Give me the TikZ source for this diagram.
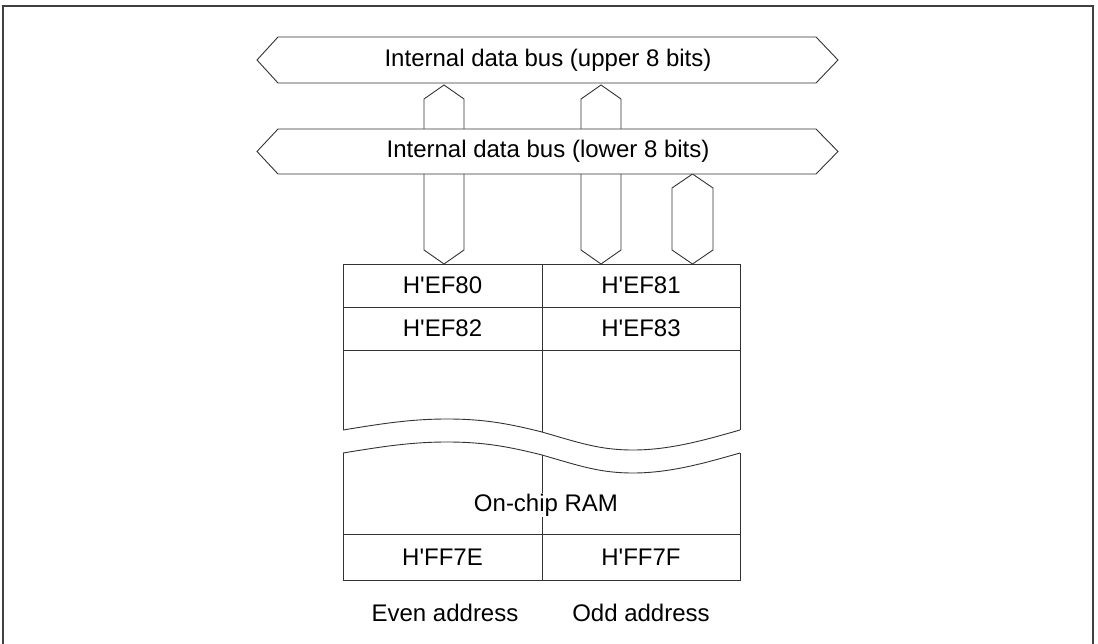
\documentclass[tikz,border=0pt]{standalone}
\usepackage{fontspec}
\setmainfont{Liberation Sans}[Ligatures=TeXOff]
\begin{document}
\begin{tikzpicture}[x=1pt,y=-1pt,
  line/.style={draw=black!80, line width=0.9pt, line join=miter},
  busshape/.style={line, fill=white},
  frame/.style={draw=black!75, line width=2pt},
  lbl/.style={font=\fontsize{24}{27}\selectfont, inner sep=0pt, text=black},
  cell/.style={lbl}]
\useasboundingbox (0,0) rectangle (1098,644);
% outer frame
\draw[frame] (3,644) -- (3,6) -- (1093,6) -- (1093,644);

% vertical bus connectors (drawn first, buses cover them)
\coordinate (c1top) at (444,85);
\coordinate (c1bot) at (444,264);
\coordinate (c2top) at (601,85);
\coordinate (c2bot) at (601,264);
\coordinate (c3top) at (692.5,174);
\coordinate (c3bot) at (692.5,264);
\draw[line] (c1top) -- ++(20,14) -- (464,250) -- (c1bot) -- (424,250) -- (424,99) -- cycle;
\draw[line] (c2top) -- ++(20,14) -- (621,250) -- (c2bot) -- (581,250) -- (581,99) -- cycle;
\draw[line] (c3top) -- (713,188) -- (713,250) -- (c3bot) -- (672,250) -- (672,188) -- cycle;

% buses
\draw[busshape] (257,60) -- (278,37) -- (816,37) -- (838,60) -- (816,83) -- (278,83) -- cycle;
\draw[busshape] (257,151.5) -- (278,129) -- (816,129) -- (838,151.5) -- (816,174) -- (278,174) -- cycle;
\node[lbl] (upbus) at (548,60) {Internal data bus (upper 8 bits)};
\node[lbl] (lowbus) at (548,151.5) {Internal data bus (lower 8 bits)};

% upper memory block
\draw[line] (343,430) -- (343,264) -- (740,264) -- (740,430);
\draw[line] (343,430) .. controls (380,424) and (410,419) .. (447,419)
                      .. controls (485,419) and (510,424) .. (542,432)
                      .. controls (580,443) and (600,450) .. (633,450)
                      .. controls (670,450) and (705,440) .. (740,430);
\draw[line] (542,264) -- (542,432);
\draw[line] (343,307) -- (740,307);
\draw[line] (343,350) -- (740,350);
\node[cell] (a80) at (442.5,285.5) {H'EF80};
\node[cell] (a81) at (641,285.5) {H'EF81};
\node[cell] (a82) at (442.5,328.5) {H'EF82};
\node[cell] (a83) at (641,328.5) {H'EF83};

% lower memory block
\draw[line] (343,453) -- (343,580) -- (740,580) -- (740,453);
\draw[line] (343,453) .. controls (380,447) and (410,442) .. (447,442)
                      .. controls (485,442) and (510,447) .. (542,455)
                      .. controls (580,466) and (600,473) .. (633,473)
                      .. controls (670,473) and (705,463) .. (740,453);
\draw[line] (542,455) -- (542,580);
\draw[line] (343,534) -- (740,534);
\node[cell, fill=white, inner xsep=1pt, inner ysep=1pt] (ram) at (546,505) {On-chip RAM};
\node[cell] (a7e) at (442.5,557) {H'FF7E};
\node[cell] (a7f) at (641,557) {H'FF7F};

% labels
\node[lbl] (even) at (445,613) {Even address};
\node[lbl] (odd) at (641,613) {Odd address};
\end{tikzpicture}
\end{document}
